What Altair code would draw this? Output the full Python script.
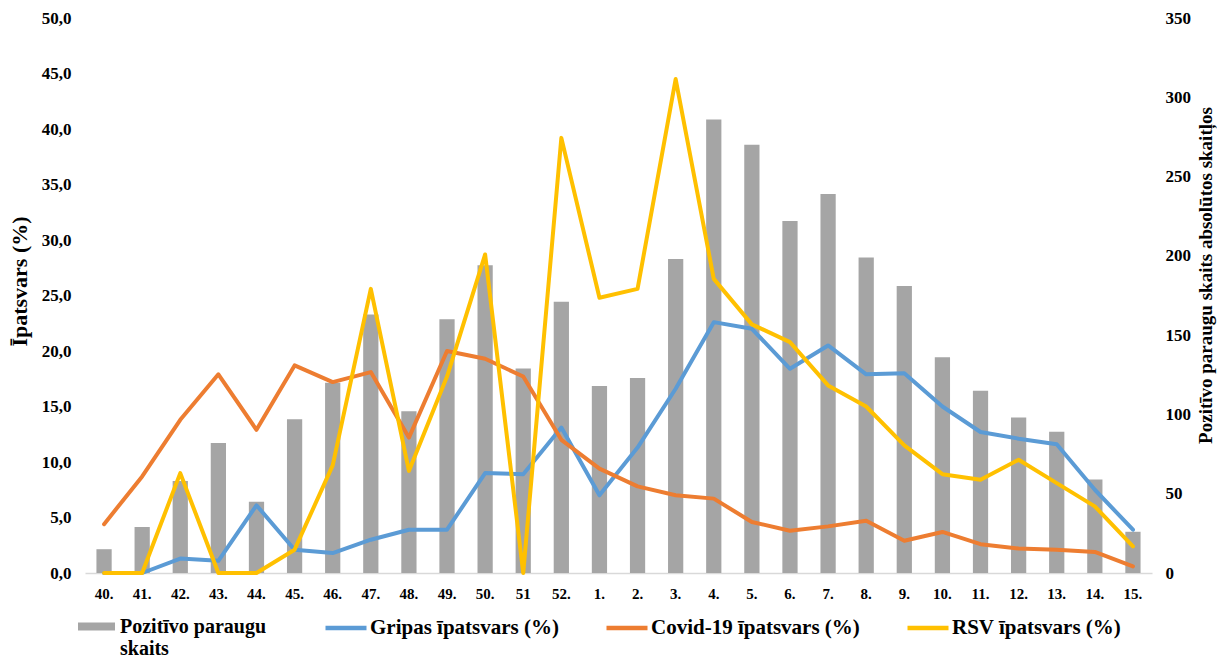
import altair as alt
import pandas as pd

weeks = ["40.", "41.", "42.", "43.", "44.", "45.", "46.", "47.", "48.", "49.", "50.", "51", "52.",
         "1.", "2.", "3.", "4.", "5.", "6.", "7.", "8.", "9.", "10.", "11.", "12.", "13.", "14.", "15."]
positive = [15, 29, 58, 82, 45, 97, 120, 163, 102, 160, 194, 129, 171,
            118, 123, 198, 286, 270, 222, 239, 199, 181, 136, 115, 98, 89, 59, 26]
gripas = [0, 0, 1.3, 1.1, 6.1, 2.1, 1.8, 3.0, 3.9, 3.9, 9.0, 8.9, 13.1,
          7.0, 11.3, 16.6, 22.6, 22.0, 18.4, 20.5, 17.9, 18.0, 15.0, 12.7, 12.1, 11.6, 7.5, 3.9]
covid = [4.4, 8.7, 13.8, 17.9, 12.9, 18.7, 17.2, 18.1, 12.2, 20.0, 19.3, 17.7, 12.0,
         9.4, 7.8, 7.0, 6.7, 4.6, 3.8, 4.2, 4.7, 2.9, 3.7, 2.6, 2.2, 2.1, 1.9, 0.6]
rsv = [0, 0, 9.0, 0, 0, 2.1, 9.7, 25.6, 9.2, 17.7, 28.7, 0, 39.2,
       24.8, 25.6, 44.5, 26.5, 22.4, 20.8, 16.9, 15.0, 11.5, 8.9, 8.4, 10.2, 8.1, 6.0, 2.4]

bar_name = "Pozitīvo paraugu skaits"
series_names = ["Gripas īpatsvars (%)", "Covid-19 īpatsvars (%)", "RSV īpatsvars (%)"]
series_colors = ["#5b9bd5", "#ed7d31", "#ffc000"]
left_title = "Īpatsvars (%)"
right_title = "Pozitīvo paraugu skaits absolūtos skaitļos"

FONT = "Liberation Serif"

df_bar = pd.DataFrame({"week": weeks, "count": positive, "kind": bar_name})
rows = []
for name, vals in zip(series_names, [gripas, covid, rsv]):
    for i, (w, v) in enumerate(zip(weeks, vals)):
        rows.append({"week": w, "idx": i, "series": name, "value": v})
df_line = pd.DataFrame(rows)

x_enc = alt.X(
    "week:N", sort=weeks,
    scale=alt.Scale(paddingInner=0.6, paddingOuter=0.3),
    axis=alt.Axis(title=None, labelAngle=0, ticks=False, grid=False,
                  domainColor="#d9d9d9", domainWidth=1.5,
                  labelFont=FONT, labelFontSize=15, labelFontWeight="bold",
                  labelColor="#000000", labelPadding=13),
)

bars = alt.Chart(df_bar).mark_bar(color="#a5a5a5").encode(
    x=x_enc,
    y=alt.Y("count:Q", scale=alt.Scale(domain=[0, 350], nice=False),
            axis=alt.Axis(orient="right", values=list(range(0, 351, 50)),
                          title=right_title, domain=False, ticks=False, grid=False,
                          labelFont=FONT, labelFontSize=17, labelFontWeight="bold",
                          labelColor="#000000", labelPadding=13,
                          titleFont=FONT, titleFontSize=19, titleFontWeight="bold",
                          titleColor="#000000", titleAngle=270, titleX=53, titleY=257,
                          titleAlign="center", titleBaseline="middle")),
    fill=alt.Fill("kind:N", scale=alt.Scale(domain=[bar_name], range=["#a5a5a5"]),
                  legend=alt.Legend(orient="none", legendX=-7, legendY=590, title=None,
                                    symbolType="M-1,-0.22H1V0.22H-1Z", symbolSize=1369,
                                    symbolStrokeWidth=0, labelFont=FONT, labelFontSize=20,
                                    labelFontWeight="bold", labelColor="#000000",
                                    labelOffset=5, labelLimit=400,
                                    labelExpr="['Pozitīvo paraugu', 'skaits']")),
)

lines = alt.Chart(df_line).mark_line(strokeWidth=4, strokeCap="round", strokeJoin="round").encode(
    x=x_enc,
    y=alt.Y("value:Q", scale=alt.Scale(domain=[0, 50], nice=False),
            axis=alt.Axis(orient="left", values=list(range(0, 51, 5)),
                          labelExpr="replace(format(datum.value, '.1f'), '.', ',')",
                          title=left_title, domain=False, ticks=False, grid=False,
                          labelFont=FONT, labelFontSize=17, labelFontWeight="bold",
                          labelColor="#000000", labelPadding=14,
                          titleFont=FONT, titleFontSize=22, titleFontWeight="bold",
                          titleColor="#000000", titleAngle=270, titleX=-66, titleY=263,
                          titleAlign="center", titleBaseline="middle")),
    stroke=alt.Stroke("series:N", scale=alt.Scale(domain=series_names, range=series_colors),
                      legend=alt.Legend(orient="none", legendX=238, legendY=587, title=None,
                                        direction="horizontal", symbolType="stroke",
                                        symbolSize=1681, symbolStrokeWidth=4.5,
                                        labelFont=FONT, labelFontSize=21, labelFontWeight="bold",
                                        labelColor="#000000", labelOffset=1, labelLimit=400,
                                        columnPadding=38)),
    order=alt.Order("idx:Q"),
)

chart = alt.layer(bars, lines).resolve_scale(y="independent").properties(
    width=1067, height=555,
    padding={"left": 77, "top": 10, "right": 65, "bottom": 90},
    autosize=alt.AutoSizeParams(type="none"),
    background="white",
).configure_view(stroke=None)

chart.save("out.html", embed_options={"renderer": "svg", "actions": False})
